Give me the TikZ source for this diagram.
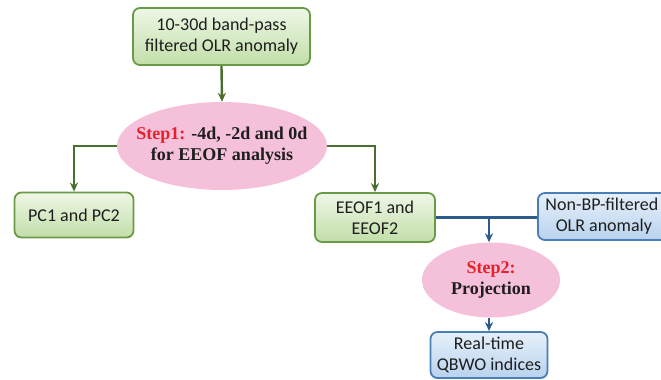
\documentclass[tikz,border=0pt]{standalone}
\usepackage{fontspec}
\setmainfont{Carlito}
\newfontfamily\serifb{Liberation Serif}
\usetikzlibrary{arrows.meta,shapes.geometric,calc}
\definecolor{gborder}{HTML}{6A9A48}
\definecolor{gtop}{HTML}{EEF7E6}
\definecolor{gbot}{HTML}{C2DEA9}
\definecolor{garrowc}{HTML}{486F2E}
\definecolor{bborder}{HTML}{4A7EB6}
\definecolor{btop}{HTML}{E6F0FA}
\definecolor{bbot}{HTML}{B9D2EE}
\definecolor{barrowc}{HTML}{2C5A8A}
\definecolor{pinkfill}{HTML}{F5C0DA}
\definecolor{stepred}{HTML}{E8202A}
\definecolor{txt}{HTML}{1E1E1E}
\tikzset{
  gbox/.style={draw=gborder, line width=1.8pt, rounded corners=7pt, top color=gtop, bottom color=gbot,
    align=center, text=txt, font=\fontsize{18}{21}\selectfont, inner sep=0pt},
  bbox/.style={draw=bborder, line width=1.8pt, rounded corners=7pt, top color=btop, bottom color=bbot,
    align=center, text=txt, font=\fontsize{18}{21}\selectfont, inner sep=0pt},
  pell/.style={ellipse, fill=pinkfill, draw=none, align=center, inner xsep=-30pt, inner ysep=-15pt, text=txt,
    font=\serifb\bfseries\fontsize{18}{21}\selectfont},
  garrow/.style={draw=garrowc, line width=2.4pt, -{Stealth[length=9pt,width=8pt]}},
  barrow/.style={draw=barrowc, line width=2.4pt, -{Stealth[length=9pt,width=8pt]}},
  bline/.style={draw=barrowc, line width=2.4pt},
}
\begin{document}
\begin{tikzpicture}[x=1pt,y=-1pt]
\useasboundingbox (0,0) rectangle (661,380);
\node[gbox, minimum width=177pt, minimum height=57pt] (top) at (221.5,36.5) {10-30d band-pass\\filtered OLR anomaly};
\node[pell, minimum width=210pt, minimum height=88pt] (e1) at (222,146) {\textcolor{stepred}{Step1:} -4d, -2d and 0d\\for EEOF analysis};
\node[gbox, minimum width=119pt, minimum height=45pt] (pc) at (74,215) {PC1 and PC2};
\node[gbox, minimum width=120pt, minimum height=49pt] (eeof) at (375,217.5) {EEOF1 and\\EEOF2};
\node[bbox, minimum width=132pt, minimum height=47pt, anchor=west] (nonbp) at (537,216.5) {\hspace*{-4pt}Non-BP-filtered\\OLR anomaly};
\node[pell, minimum width=138pt, minimum height=75pt] (e2) at (491,280) {\textcolor{stepred}{Step2:}\\Projection};
\node[bbox, minimum width=117pt, minimum height=46pt] (rt) at (489,355) {Real-time\\QBWO indices};
\coordinate (j) at (rt.north |- eeof.east);
\draw[garrow] (top.south) -- (e1.north);
\draw[garrow] (e1.west) -| (pc.north);
\draw[garrow] (e1.east) -| (eeof.north);
\draw[bline] (eeof.east) -- (nonbp.west |- eeof.east);
\draw[barrow] (j) -- (j |- e2.north);
\draw[barrow] (rt.north |- e2.south) -- (rt.north);
\end{tikzpicture}
\end{document}
